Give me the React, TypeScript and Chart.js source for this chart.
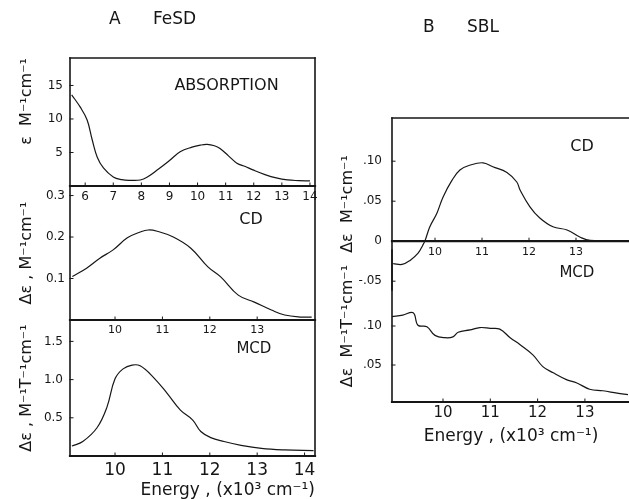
import React, { useEffect, useRef } from 'react';
import { Chart, registerables } from 'chart.js';

Chart.register(...registerables);

const FONT = "'DejaVu Sans', 'Liberation Sans', sans-serif";
const INK = '#161616';

// ---------- Panel A : FeSD ----------
// Absorption  (energy in 10^3 cm^-1, epsilon in M^-1 cm^-1)
const absEnergy = [5.52, 5.82, 6.07, 6.25, 6.43, 6.65, 7.0, 7.3, 7.6, 7.96, 8.2, 8.6, 9.0, 9.38, 9.8, 10.1, 10.34, 10.6, 10.8, 11.1, 11.4, 11.7, 11.97, 12.4, 12.8, 13.2, 13.6, 14.0];
const absEps = [13.6, 11.8, 9.85, 6.9, 4.3, 2.7, 1.35, 0.95, 0.85, 0.9, 1.3, 2.5, 3.8, 5.1, 5.8, 6.1, 6.2, 6.0, 5.6, 4.5, 3.4, 2.9, 2.4, 1.7, 1.2, 0.9, 0.8, 0.75];
const absXTicks = [6, 7, 8, 9, 10, 11, 12, 13, 14];
const absXLabels = ['6', '7', '8', '9', '10', '11', '12', '13', '14'];
const absYTicks = [5, 10, 15];
const absYLabels = ['5', '10', '15'];

// CD
const cdAEnergy = [9.1, 9.4, 9.68, 9.96, 10.26, 10.53, 10.7, 10.89, 11.23, 11.6, 11.96, 12.23, 12.6, 12.94, 13.3, 13.58, 13.94, 14.15];
const cdADelta = [0.105, 0.125, 0.149, 0.169, 0.198, 0.212, 0.217, 0.214, 0.2, 0.173, 0.128, 0.104, 0.06, 0.043, 0.024, 0.012, 0.007, 0.007];
const cdAXTicks = [10, 11, 12, 13];
const cdAXLabels = ['10', '11', '12', '13'];
const cdAYTicks = [0.1, 0.2, 0.3];
const cdAYLabels = ['0.1', '0.2', '0.3'];

// MCD
const mcdAEnergy = [9.09, 9.32, 9.62, 9.83, 10.0, 10.17, 10.36, 10.53, 10.81, 11.1, 11.38, 11.64, 11.81, 12.02, 12.3, 12.66, 13.09, 13.58, 14.19];
const mcdADelta = [0.13, 0.19, 0.37, 0.64, 1.01, 1.14, 1.19, 1.18, 1.03, 0.82, 0.6, 0.47, 0.32, 0.24, 0.19, 0.14, 0.1, 0.08, 0.07];
const mcdAXTicks = [10, 11, 12, 13, 14];
const mcdAXLabels = ['10', '11', '12', '13', '14'];
const mcdAYTicks = [0.5, 1.0, 1.5];
const mcdAYLabels = ['0.5', '1.0', '1.5'];

// ---------- Panel B : SBL ----------
const cdBEnergy = [9.11, 9.3, 9.47, 9.64, 9.74, 9.79, 9.89, 10.04, 10.17, 10.36, 10.53, 10.74, 11.02, 11.23, 11.53, 11.74, 11.81, 12.02, 12.23, 12.51, 12.81, 13.09, 13.3, 14.1];
const cdBDelta = [-0.028, -0.029, -0.024, -0.015, -0.005, 0.001, 0.018, 0.035, 0.055, 0.076, 0.089, 0.095, 0.098, 0.093, 0.086, 0.074, 0.064, 0.043, 0.029, 0.018, 0.014, 0.005, 0.001, 0.0];
const cdBXTicks = [10, 11, 12, 13];
const cdBXLabels = ['10', '11', '12', '13'];
const cdBYTicks = [-0.05, 0, 0.05, 0.1];
const cdBYLabels = ['-.05', '0', '.05', '.10'];

const mcdBEnergy = [8.92, 9.15, 9.37, 9.47, 9.66, 9.83, 10.04, 10.21, 10.32, 10.57, 10.78, 11.0, 11.2, 11.42, 11.63, 11.9, 12.11, 12.33, 12.62, 12.83, 13.1, 13.38, 13.68, 13.91];
const mcdBDelta = [0.112, 0.114, 0.117, 0.101, 0.099, 0.088, 0.085, 0.086, 0.092, 0.095, 0.098, 0.097, 0.096, 0.085, 0.076, 0.063, 0.048, 0.04, 0.031, 0.027, 0.019, 0.017, 0.014, 0.012];
const mcdBXTicks = [10, 11, 12, 13];
const mcdBXLabels = ['10', '11', '12', '13'];
const mcdBYTicks = [0.05, 0.1];
const mcdBYLabels = ['.05', '.10'];

const energyTitle = 'Energy , (x10³ cm⁻¹)';

type Note = { text: string; x: number; y: number; size: number };
type Spec = {
  left: number; top: number; width: number; height: number;
  axisW: number; xAxisH: number;
  pad: { top: number; right: number; bottom: number };
  title?: { text: string; size: number; padTop: number; padBottom: number };
  xs: number[]; ys: number[];
  xRange: [number, number]; yRange: [number, number];
  xTicks: number[]; xLabels: string[]; xTickSize: number; xTickPad: number;
  xAtZero?: boolean;
  yTicks: number[]; yLabels: string[]; yTickPad: number;
  yTitle: string; yTitlePad: number; yTitleAlign?: 'center' | 'end';
  xTitle?: { text: string; align: 'center' | 'end'; padBottom: number };
  sides: string;
  notes: Note[];
};

const framePlugin = {
  id: 'frame',
  afterDatasetsDraw(chart: any, _a: any, opts: any) {
    const { left, top, right, bottom } = chart.chartArea;
    const ctx = chart.ctx;
    const sides: string = opts.sides || '';
    ctx.save();
    ctx.strokeStyle = INK;
    ctx.lineCap = 'square';
    const seg = (x1: number, y1: number, x2: number, y2: number, w: number) => {
      ctx.lineWidth = w;
      ctx.beginPath();
      ctx.moveTo(x1, y1);
      ctx.lineTo(x2, y2);
      ctx.stroke();
    };
    if (sides.includes('t')) seg(left, top, right, top, 1.6);
    if (sides.includes('b')) seg(left, bottom, right, bottom, 2.2);
    if (sides.includes('l')) seg(left, top, left, bottom, 1.6);
    if (sides.includes('r')) seg(right, top, right, bottom, 1.6);
    const xs = chart.scales.x;
    const ys = chart.scales.y;
    const axisY = opts.xAtZero ? ys.getPixelForValue(0) : bottom;
    if (opts.xAtZero) seg(left, axisY, right, axisY, 2.2);
    for (const t of xs.ticks) {
      const px = xs.getPixelForValue(t.value);
      seg(px, axisY, px, axisY - 3, 1);
    }
    for (const t of ys.ticks) {
      const py = ys.getPixelForValue(t.value);
      seg(left, py, left + 3, py, 1);
    }
    ctx.restore();
  },
};

const notesPlugin = {
  id: 'notes',
  afterDatasetsDraw(chart: any, _a: any, opts: any) {
    const items: Note[] = opts.items || [];
    const ctx = chart.ctx;
    ctx.save();
    ctx.fillStyle = INK;
    ctx.textAlign = 'center';
    ctx.textBaseline = 'middle';
    for (const n of items) {
      ctx.font = `${n.size}px ${FONT}`;
      ctx.fillText(n.text, chart.scales.x.getPixelForValue(n.x), chart.scales.y.getPixelForValue(n.y));
    }
    ctx.restore();
  },
};

function buildConfig(s: Spec): any {
  return {
    type: 'line',
    data: {
      datasets: [
        {
          data: s.xs.map((x, i) => ({ x, y: s.ys[i] })),
          borderColor: INK,
          borderWidth: 1.2,
          pointRadius: 0,
          tension: 0.4,
          fill: false,
        },
      ],
    },
    options: {
      responsive: false,
      animation: false,
      devicePixelRatio: 1,
      layout: { padding: { left: 0, top: s.pad.top, right: s.pad.right, bottom: s.pad.bottom } },
      plugins: {
        legend: { display: false },
        tooltip: { enabled: false },
        title: s.title
          ? {
              display: true,
              text: s.title.text,
              color: INK,
              font: { family: FONT, size: s.title.size, weight: 'normal' },
              padding: { top: s.title.padTop, bottom: s.title.padBottom },
            }
          : { display: false },
        frame: { sides: s.sides, xAtZero: !!s.xAtZero },
        notes: { items: s.notes },
      },
      scales: {
        x: {
          type: 'linear',
          min: s.xRange[0],
          max: s.xRange[1],
          position: s.xAtZero ? { y: 0 } : 'bottom',
          afterBuildTicks: (sc: any) => {
            sc.ticks = s.xTicks.map((v) => ({ value: v }));
          },
          afterFit: (sc: any) => {
            sc.height = s.xAxisH;
          },
          ticks: {
            autoSkip: false,
            maxRotation: 0,
            padding: s.xTickPad,
            color: INK,
            font: { family: FONT, size: s.xTickSize },
            callback: (_v: any, i: number) => s.xLabels[i],
          },
          grid: { display: false, drawTicks: false },
          border: { display: false },
          title: s.xTitle
            ? {
                display: true,
                text: s.xTitle.text,
                align: s.xTitle.align,
                color: INK,
                font: { family: FONT, size: 17 },
                padding: { top: 0, bottom: s.xTitle.padBottom },
              }
            : { display: false },
        },
        y: {
          type: 'linear',
          min: s.yRange[0],
          max: s.yRange[1],
          position: 'left',
          afterBuildTicks: (sc: any) => {
            sc.ticks = s.yTicks.map((v) => ({ value: v }));
          },
          afterFit: (sc: any) => {
            sc.width = s.axisW;
          },
          ticks: {
            autoSkip: false,
            padding: s.yTickPad,
            color: INK,
            font: { family: FONT, size: 12 },
            callback: (_v: any, i: number) => s.yLabels[i],
          },
          grid: { display: false, drawTicks: false },
          border: { display: false },
          title: {
            display: true,
            text: s.yTitle,
            align: s.yTitleAlign || 'center',
            color: INK,
            font: { family: FONT, size: 16 },
            padding: { top: s.yTitlePad, bottom: 0 },
          },
        },
      },
    },
    plugins: [framePlugin, notesPlugin],
  };
}

const specs: Spec[] = [
  {
    left: -10, top: 0, width: 335, height: 208, axisW: 80, xAxisH: 22,
    pad: { top: 0, right: 10, bottom: 0 },
    title: { text: 'A      FeSD', size: 17, padTop: 9, padBottom: 28.6 },
    xs: absEnergy, ys: absEps,
    xRange: [5.46, 14.18], yRange: [0, 19.1],
    xTicks: absXTicks, xLabels: absXLabels, xTickSize: 12, xTickPad: 4,
    yTicks: absYTicks, yLabels: absYLabels, yTickPad: 7,
    yTitle: 'ε  M⁻¹cm⁻¹', yTitlePad: 27.5, yTitleAlign: 'end',
    sides: 'tlrb',
    notes: [{ text: 'ABSORPTION', x: 11.03, y: 14.9, size: 16 }],
  },
  {
    left: -10, top: 166, width: 335, height: 176, axisW: 80, xAxisH: 22,
    pad: { top: 20, right: 10, bottom: 0 },
    xs: cdAEnergy, ys: cdADelta,
    xRange: [9.05, 14.22], yRange: [0, 0.323],
    xTicks: cdAXTicks, xLabels: cdAXLabels, xTickSize: 11, xTickPad: 3.4,
    yTicks: cdAYTicks, yLabels: cdAYLabels, yTickPad: 5,
    yTitle: 'Δε , M⁻¹cm⁻¹', yTitlePad: 27.5,
    sides: 'lrb',
    notes: [{ text: 'CD', x: 12.87, y: 0.241, size: 16 }],
  },
  {
    left: -10, top: 300, width: 335, height: 201, axisW: 80, xAxisH: 45,
    pad: { top: 20, right: 10, bottom: 0 },
    xs: mcdAEnergy, ys: mcdADelta,
    xRange: [9.05, 14.22], yRange: [0, 1.78],
    xTicks: mcdAXTicks, xLabels: mcdAXLabels, xTickSize: 17, xTickPad: 4,
    yTicks: mcdAYTicks, yLabels: mcdAYLabels, yTickPad: 7,
    yTitle: 'Δε , M⁻¹T⁻¹cm⁻¹', yTitlePad: 27.5,
    xTitle: { text: energyTitle, align: 'end', padBottom: 0 },
    sides: 'lrb',
    notes: [{ text: 'MCD', x: 12.93, y: 1.4, size: 15 }],
  },
  {
    left: 292, top: 0, width: 340, height: 310, axisW: 100, xAxisH: 0,
    pad: { top: 0, right: 2, bottom: 20 },
    title: { text: 'B      SBL', size: 17, padTop: 17, padBottom: 80.6 },
    xs: cdBEnergy, ys: cdBDelta,
    xRange: [9.085, 14.149], yRange: [-0.061, 0.154],
    xTicks: cdBXTicks, xLabels: cdBXLabels, xTickSize: 11, xTickPad: 4.4,
    xAtZero: true,
    yTicks: cdBYTicks, yLabels: cdBYLabels, yTickPad: 10,
    yTitle: 'Δε  M⁻¹cm⁻¹', yTitlePad: 46,
    sides: 'tlr',
    notes: [{ text: 'CD', x: 13.13, y: 0.1175, size: 16 }],
  },
  {
    left: 292, top: 230, width: 340, height: 217, axisW: 100, xAxisH: 45,
    pad: { top: 20, right: 2, bottom: 0 },
    xs: mcdBEnergy, ys: mcdBDelta,
    xRange: [8.922, 13.953], yRange: [0.0026, 0.1974],
    xTicks: mcdBXTicks, xLabels: mcdBXLabels, xTickSize: 15, xTickPad: 2,
    yTicks: mcdBYTicks, yLabels: mcdBYLabels, yTickPad: 10,
    yTitle: 'Δε  M⁻¹T⁻¹cm⁻¹', yTitlePad: 46,
    xTitle: { text: energyTitle, align: 'center', padBottom: 0 },
    sides: 'lrb',
    notes: [{ text: 'MCD', x: 12.83, y: 0.168, size: 15 }],
  },
];

function ChartPanel({ spec }: { spec: Spec }) {
  const ref = useRef<HTMLCanvasElement>(null);
  useEffect(() => {
    const chart = new Chart(ref.current as HTMLCanvasElement, buildConfig(spec));
    return () => chart.destroy();
  }, [spec]);
  return (
    <canvas
      ref={ref}
      width={spec.width}
      height={spec.height}
      style={{ position: 'absolute', left: spec.left, top: spec.top, width: spec.width, height: spec.height }}
    />
  );
}

export default function App() {
  return (
    <div
      style={{
        position: 'absolute',
        left: 0,
        top: 0,
        width: 629,
        height: 499,
        overflow: 'hidden',
        background: '#fff',
      }}
    >
      {specs.map((s, i) => (
        <ChartPanel key={i} spec={s} />
      ))}
    </div>
  );
}
